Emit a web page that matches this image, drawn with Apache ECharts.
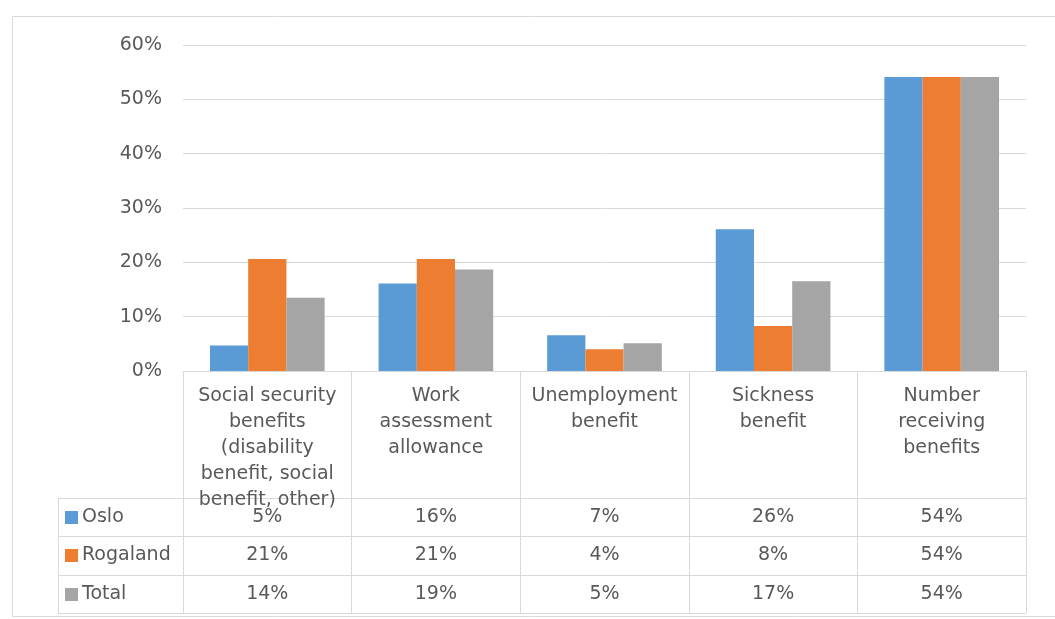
<!DOCTYPE html>
<html>
<head>
<meta charset="utf-8">
<script src="https://cdn.jsdelivr.net/npm/echarts@6/dist/echarts.min.js"></script>
<style>
  html, body { margin: 0; padding: 0; background: #fff; }
  #chart { width: 1055px; height: 619px; }
</style>
</head>
<body>
<div id="chart"></div>
<script>
// data (percent)
var categories = [
  'Social security benefits (disability benefit, social benefit, other)',
  'Work assessment allowance',
  'Unemployment benefit',
  'Sickness benefit',
  'Number receiving benefits'
];
var seriesNames = ['Oslo', 'Rogaland', 'Total'];
var osloData = [4.7, 16.1, 6.6, 26.1, 54.1];
var rogalandData = [20.6, 20.6, 4.0, 8.3, 54.1];
var totalData = [13.5, 18.7, 5.1, 16.5, 54.1];

var colors = ['#5b9bd5', '#ed7d31', '#a5a5a5'];
var font = 'DejaVu Sans';
var textColor = '#595959';
var lineColor = '#d9d9d9';

var seriesData = [osloData, rogalandData, totalData];

// word wrap like excel does in the table header
var measureCtx = document.createElement('canvas').getContext('2d');
measureCtx.font = '19px "DejaVu Sans"';
function wrapLabel(text) {
  var words = text.split(' ');
  var lines = [];
  var cur = '';
  words.forEach(function (w) {
    var test = cur ? cur + ' ' + w : w;
    if (cur && measureCtx.measureText(test).width > 150) {
      lines.push(cur);
      cur = w;
    } else {
      cur = test;
    }
  });
  if (cur) lines.push(cur);
  return lines.join('\n');
}

var chart = echarts.init(document.getElementById('chart'));

chart.setOption({
  animation: false,
  color: colors,
  grid: { left: 183, right: 29, top: 45, bottom: 248 },
  xAxis: {
    type: 'category',
    data: categories,
    axisLine: { show: true, lineStyle: { color: lineColor } },
    axisTick: { show: true, interval: 0, alignWithLabel: false, length: 242, lineStyle: { color: lineColor } },
    axisLabel: {
      interval: 0,
      color: textColor,
      fontFamily: font,
      fontSize: 19,
      lineHeight: 26,
      margin: 12,
      verticalAlign: 'top',
      formatter: wrapLabel
    }
  },
  yAxis: {
    type: 'value',
    min: 0,
    max: 60,
    interval: 10,
    axisLine: { show: false },
    axisTick: { show: false },
    axisLabel: {
      formatter: '{value}%',
      color: textColor,
      fontFamily: font,
      fontSize: 19,
      margin: 21
    },
    splitLine: { lineStyle: { color: lineColor } }
  },
  series: seriesNames.map(function (name, i) {
    return {
      name: name,
      type: 'bar',
      data: seriesData[i],
      barGap: '0%',
      barCategoryGap: '32%'
    };
  })
});

// data table under the axis (legend keys + values), placed from the axis scale
function drawTable() {
  var centers = categories.map(function (c) {
    return chart.convertToPixel({ xAxisIndex: 0 }, c);
  });
  var colW = centers[1] - centers[0];
  var right = centers[centers.length - 1] + colW / 2;
  var axisY = chart.convertToPixel({ yAxisIndex: 0 }, 0);
  var tableLeft = 58;
  var headerH = 127;
  var rowH = 38.3;

  var els = [];
  // outer chart frame
  els.push({
    type: 'rect',
    shape: { x: 12.5, y: 16.5, width: 1100, height: 600 },
    style: { fill: 'none', stroke: lineColor, lineWidth: 1 },
    silent: true
  });

  var rowTop = axisY + headerH;
  for (var r = 0; r <= seriesNames.length; r++) {
    var y = Math.round(rowTop + r * rowH) + 0.5;
    els.push({
      type: 'line',
      shape: { x1: tableLeft, y1: y, x2: right, y2: y },
      style: { stroke: lineColor, lineWidth: 1 },
      silent: true
    });
  }
  els.push({
    type: 'line',
    shape: {
      x1: tableLeft + 0.5, y1: Math.round(rowTop) + 0.5,
      x2: tableLeft + 0.5, y2: Math.round(rowTop + seriesNames.length * rowH) + 0.5
    },
    style: { stroke: lineColor, lineWidth: 1 },
    silent: true
  });

  seriesNames.forEach(function (name, i) {
    var cy = rowTop + (i + 0.5) * rowH;
    els.push({
      type: 'rect',
      shape: { x: 65, y: Math.round(cy - 6), width: 13, height: 13 },
      style: { fill: colors[i] },
      silent: true
    });
    els.push({
      type: 'text',
      x: 82,
      y: cy,
      style: {
        text: name, fill: textColor, font: '19px "DejaVu Sans"',
        align: 'left', verticalAlign: 'middle'
      },
      silent: true
    });
    seriesData[i].forEach(function (v, j) {
      els.push({
        type: 'text',
        x: centers[j],
        y: cy,
        style: {
          text: Math.round(v) + '%', fill: textColor, font: '19px "DejaVu Sans"',
          align: 'center', verticalAlign: 'middle'
        },
        silent: true
      });
    });
  });

  chart.setOption({ graphic: els });
}

drawTable();
</script>
</body>
</html>
